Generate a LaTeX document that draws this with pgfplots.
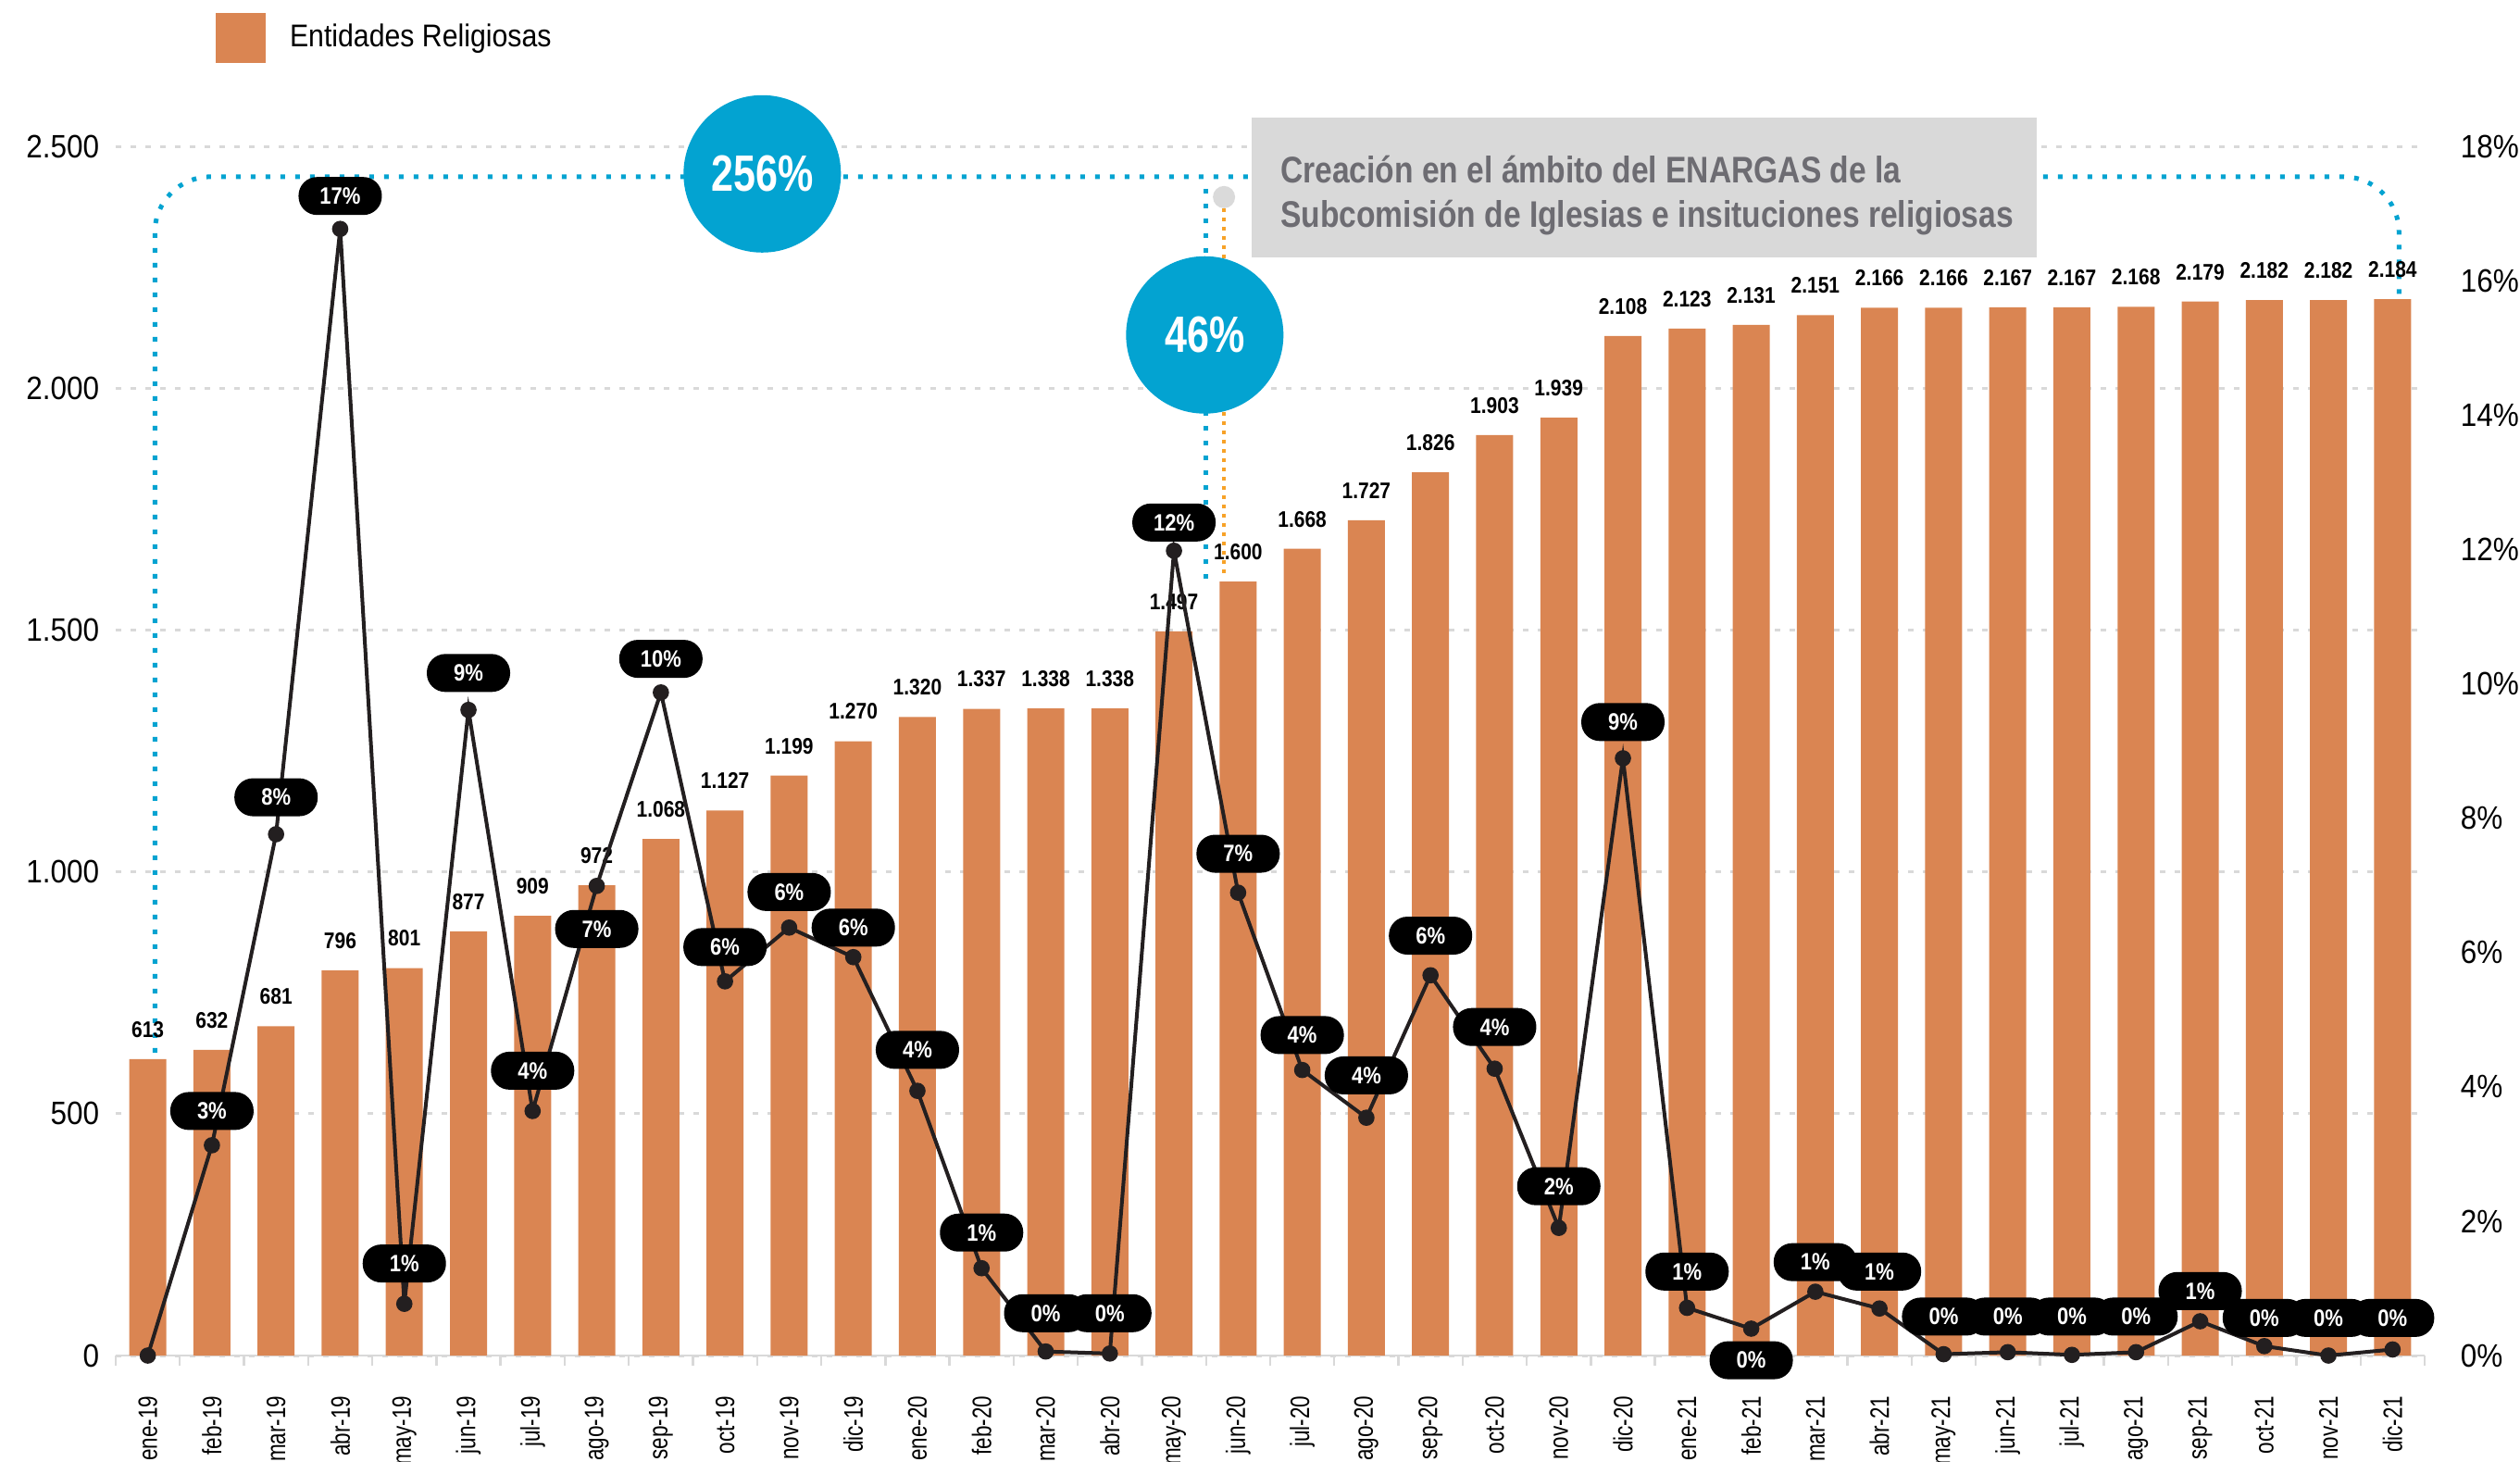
\documentclass[border=0pt]{standalone}
\usepackage{fontspec}
\setmainfont{Liberation Sans}
\newfontfamily\condfont{Liberation Sans}[FakeStretch=0.86]
\newfontfamily\boxfont{Liberation Sans}[FakeStretch=0.84]
\newfontfamily\circfont{Liberation Sans}[FakeStretch=0.78]
\newfontfamily\xfont{Liberation Sans}[FakeStretch=0.78]
\newfontfamily\tickfont{Liberation Sans}[FakeStretch=0.9]
\newfontfamily\legfont{Liberation Sans}[FakeStretch=0.89]
\usepackage{pgfplots}
\pgfplotsset{compat=1.18}
\usepackage{pgfplotstable}
\pgfkeys{/pgf/number format/.cd,1000 sep={.},assume math mode=true}

\definecolor{barcol}{RGB}{218,133,82}
\definecolor{linecol}{RGB}{35,31,32}
\definecolor{bluecol}{RGB}{3,163,209}
\definecolor{orangecol}{RGB}{247,162,40}
\definecolor{gridcol}{RGB}{217,217,217}
\definecolor{boxgrey}{RGB}{217,217,217}
\definecolor{boxtext}{RGB}{109,108,114}
\definecolor{dotgrey}{RGB}{218,218,218}

\pgfplotstableread{
x v
0 613
1 632
2 681
3 796
4 801
5 877
6 909
7 972
8 1068
9 1127
10 1199
11 1270
12 1320
13 1337
14 1338
15 1338
16 1497
17 1600
18 1668
19 1727
20 1826
21 1903
22 1939
23 2108
24 2123
25 2131
26 2151
27 2166
28 2166
29 2167
30 2167
31 2168
32 2179
33 2182
34 2182
35 2184
}\bars

\pgfplotstableread{
x p
0 0
1 3.13
2 7.76
3 16.77
4 0.77
5 9.61
6 3.64
7 6.99
8 9.87
9 5.57
10 6.37
11 5.93
12 3.94
13 1.30
14 0.06
15 0.03
16 11.98
17 6.89
18 4.25
19 3.54
20 5.66
21 4.27
22 1.90
23 8.89
24 0.71
25 0.40
26 0.95
27 0.70
28 0.02
29 0.05
30 0.01
31 0.05
32 0.51
33 0.14
34 0.00
35 0.09
}\growth

\pgfplotstableread{
x ly lab
1 3.64 3
2 8.31 8
3 17.26 17
4 1.37 1
5 10.16 9
6 4.24 4
7 6.35 7
8 10.37 10
9 6.08 6
10 6.90 6
11 6.37 6
12 4.55 4
13 1.83 1
14 0.63 0
15 0.63 0
16 12.40 12
17 7.47 7
18 4.77 4
19 4.17 4
20 6.25 6
21 4.89 4
22 2.52 2
23 9.43 9
24 1.25 1
25 -0.07 0
26 1.39 1
27 1.25 1
28 0.58 0
29 0.58 0
30 0.58 0
31 0.58 0
32 0.96 1
33 0.56 0
34 0.56 0
35 0.56 0
}\plabels

\begin{document}
\begin{tikzpicture}
\begin{axis}[
  at={(0,0)}, anchor=south west,
  scale only axis, width=623.5pt, height=326.5pt,
  xmin=-0.5, xmax=35.5, ymin=0, ymax=2500,
  clip=false,
  axis x line*=bottom, axis y line*=left,
  x axis line style={draw=gridcol, line width=0.6pt},
  y axis line style={draw=none},
  xtick={0,...,35},
  xticklabels={ene-19,feb-19,mar-19,abr-19,may-19,jun-19,jul-19,ago-19,sep-19,oct-19,nov-19,dic-19,ene-20,feb-20,mar-20,abr-20,may-20,jun-20,jul-20,ago-20,sep-20,oct-20,nov-20,dic-20,ene-21,feb-21,mar-21,abr-21,may-21,jun-21,jul-21,ago-21,sep-21,oct-21,nov-21,dic-21},
  minor xtick={-0.5,0.5,...,35.5},
  major tick length=0pt, minor tick length=2.75pt,
  tick align=outside,
  tick style={draw=gridcol, line width=0.6pt},
  xticklabel style={rotate=90, anchor=east, inner sep=0pt, font=\xfont\fontsize{7.2}{8}\selectfont},
  xticklabel shift=10.75pt,
  ytick={0,500,...,2500},
  yticklabel style={anchor=east, inner sep=0pt, font=\tickfont\fontsize{8.75}{10}\selectfont},
  yticklabel shift=4.25pt,
  ymajorgrids,
  grid style={draw=gridcol, line width=0.75pt, dash pattern=on 1.5pt off 2.5pt},
  legend style={at={(axis description cs:0.0433,1.0896)}, anchor=west, draw=none, fill=none, inner sep=0pt, outer sep=0pt, font=\legfont\fontsize{8.5}{10}\selectfont, nodes={inner sep=0pt}, /tikz/every odd column/.append style={column sep=6.5pt}},
  legend cell align=left,
]
\addplot[ybar, bar width=10pt, fill=barcol, draw=none,
  nodes near coords={\pgfmathprintnumber{\pgfplotspointmeta}},
  nodes near coords align={anchor=center},
  every node near coord/.append style={yshift=8pt, text=black, font=\condfont\bfseries\fontsize{6.1}{7}\selectfont},
  legend image code/.code={\fill[barcol] (0pt,-6.75pt) rectangle (13.5pt,6.75pt);}
] table[x=x,y=v] {\bars};
\addlegendentry{Entidades Religiosas}

\draw[bluecol, line width=1.25pt, dash pattern=on 1.25pt off 2.75pt, rounded corners=15pt]
  (axis cs:0.11,626) -- (axis cs:0.11,2437) -- (axis cs:35.10,2437) -- (axis cs:35.10,2184);
\draw[bluecol, line width=1.25pt, dash pattern=on 1.25pt off 2.75pt] (axis cs:16.50,2412) -- (axis cs:16.50,1589);
\draw[orangecol, line width=1.1pt, dash pattern=on 1pt off 1.5pt] (axis cs:16.78,2372) -- (axis cs:16.78,1608);
\fill[dotgrey] (axis cs:16.78,2395) circle[radius=3pt];
\fill[bluecol] (axis cs:9.58,2443) circle[radius=21.25pt];
\node[text=white, font=\circfont\bfseries\fontsize{13.8}{15}\selectfont] at (axis cs:9.58,2443) {256\%};
\fill[bluecol] (axis cs:16.48,2110) circle[radius=21.25pt];
\node[text=white, font=\circfont\bfseries\fontsize{13.8}{15}\selectfont] at (axis cs:16.48,2110) {46\%};
\fill[boxgrey] (axis cs:17.21,2559) rectangle (axis cs:29.45,2270);
\node[anchor=base west, inner sep=0pt, text=boxtext, font=\boxfont\bfseries\fontsize{10}{12}\selectfont] at (axis cs:17.65,2425) {Creación en el ámbito del ENARGAS de la};
\node[anchor=base west, inner sep=0pt, text=boxtext, font=\boxfont\bfseries\fontsize{10}{12}\selectfont] at (axis cs:17.65,2333) {Subcomisión de Iglesias e insituciones religiosas};
\end{axis}

\begin{axis}[
  at={(0,0)}, anchor=south west,
  scale only axis, width=623.5pt, height=326.5pt,
  xmin=-0.5, xmax=35.5, ymin=0, ymax=18,
  clip=false,
  axis x line=none, axis y line*=right,
  y axis line style={draw=none},
  ytick={0,2,...,18}, major tick length=0pt, ytick style={draw=none},
  yticklabel={\pgfmathprintnumber{\tick}\%},
  yticklabel style={anchor=west, inner sep=0pt, font=\tickfont\fontsize{8.75}{10}\selectfont},
  yticklabel shift=9.5pt,
]
\addplot[linecol, line width=1pt, mark=*, mark size=1.9pt, mark options={fill=linecol, draw=linecol, line width=0.6pt}] table[x=x,y=p] {\growth};
\addplot[draw=none, mark=none, point meta=explicit,
  nodes near coords={\pgfmathprintnumber{\pgfplotspointmeta}\%},
  nodes near coords align={anchor=center},
  every node near coord/.append style={fill=black, text=white, rounded corners=5pt, minimum width=22.5pt, minimum height=10.25pt, inner sep=0pt, font=\condfont\bfseries\fontsize{6.4}{7}\selectfont}
] table[x=x,y=ly,meta=lab] {\plabels};
\end{axis}
\pgfresetboundingbox
\path[use as bounding box] (-31.25pt,-28.5pt) rectangle (649.25pt,366pt);
\end{tikzpicture}
\end{document}
